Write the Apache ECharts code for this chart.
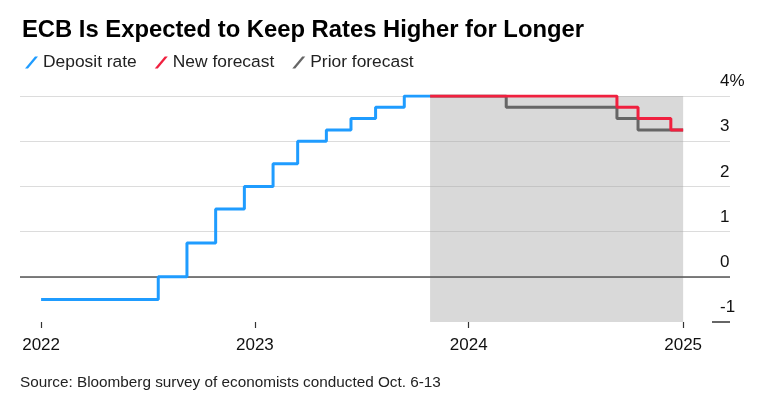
<!DOCTYPE html>
<html>
<head>
<meta charset="utf-8">
<script src="https://cdn.jsdelivr.net/npm/echarts@6/dist/echarts.min.js"></script>
<style>
html,body{margin:0;padding:0;background:#fff;}
#chart{width:764px;height:404px;}
</style>
</head>
<body>
<div id="chart"></div>
<script>
// Data
var depositRate = [
  ['2022-01-01', -0.5], ['2022-07-20', 0], ['2022-09-07', 0.75], ['2022-10-26', 1.5],
  ['2022-12-14', 2.0], ['2023-02-01', 2.5], ['2023-03-15', 3.0], ['2023-05-03', 3.25],
  ['2023-06-14', 3.5], ['2023-07-26', 3.75], ['2023-09-13', 4.0], ['2023-10-27', 4.0]
];
var newForecast = [
  ['2023-10-27', 4.0], ['2024-09-10', 3.75], ['2024-10-16', 3.5], ['2024-12-11', 3.25], ['2025-01-01', 3.25]
];
var priorForecast = [
  ['2023-10-27', 4.0], ['2024-03-05', 3.75], ['2024-09-10', 3.5], ['2024-10-16', 3.25], ['2025-01-01', 3.25]
];
var forecastPeriod = ['2023-10-27', '2025-01-01'];
var yTicks = [-1, 0, 1, 2, 3, 4];

var FONT = 'Liberation Sans, Arial, sans-serif';
var chart = echarts.init(document.getElementById('chart'));
var slash = 'path://M0,12 L3,12 L13,0 L10,0 Z';
var sourceText = {
  type: 'text', left: 20, top: 375,
  style: {text: 'Source: Bloomberg survey of economists conducted Oct. 6-13', fontSize: 15.3, fill: '#222', fontFamily: FONT}
};

chart.setOption({
  animation: false,
  backgroundColor: '#fff',
  textStyle: {fontFamily: FONT},
  title: {
    text: 'ECB Is Expected to Keep Rates Higher for Longer',
    left: 17, top: 13,
    textStyle: {fontSize: 23.8, fontWeight: 'bold', color: '#000', fontFamily: FONT}
  },
  legend: {
    left: 20, top: 49,
    itemWidth: 13, itemHeight: 12, itemGap: 18,
    textStyle: {fontSize: 17.4, color: '#222', fontFamily: FONT},
    data: [
      {name: 'Deposit rate', icon: slash, itemStyle: {color: '#1f9cff'}},
      {name: 'New forecast', icon: slash, itemStyle: {color: '#f0203f'}},
      {name: 'Prior forecast', icon: slash, itemStyle: {color: '#666666'}}
    ]
  },
  grid: {left: 20, right: 34, top: 96, bottom: 82},
  xAxis: {
    type: 'time',
    min: '2021-11-26',
    max: '2025-03-22',
    minInterval: 365 * 24 * 3600 * 1000,
    maxInterval: 366 * 24 * 3600 * 1000,
    axisLine: {show: false, onZero: false},
    axisTick: {show: true, length: 6, lineStyle: {color: '#333', width: 1.2}},
    axisLabel: {
      fontSize: 17, color: '#111', margin: 15, fontFamily: FONT,
      formatter: function (v) { return new Date(v).getFullYear() + ''; }
    },
    splitLine: {show: false}
  },
  yAxis: {
    type: 'value',
    position: 'right',
    min: yTicks[0], max: yTicks[yTicks.length - 1], interval: 1,
    axisLine: {show: false},
    axisTick: {show: false},
    axisLabel: {
      inside: true, align: 'left', verticalAlign: 'bottom', margin: 10,
      padding: [0, 0, 6, 0],
      fontSize: 17, color: '#111', fontFamily: FONT,
      formatter: function (v) { return v === yTicks[yTicks.length - 1] ? v + '%' : v + ''; }
    },
    splitLine: {
      show: true,
      lineStyle: {color: ['rgba(0,0,0,0)', '#dcdcdc', '#dcdcdc', '#dcdcdc', '#dcdcdc', '#dcdcdc'], width: 1.2}
    }
  },
  series: [
    {
      name: 'Prior forecast', type: 'line', step: 'end', data: priorForecast,
      showSymbol: false, symbol: 'none',
      lineStyle: {color: '#666666', width: 3},
      itemStyle: {color: '#666666'},
      z: 3,
      markArea: {
        silent: true,
        itemStyle: {color: 'rgba(160,160,160,0.4)'},
        data: [[{xAxis: forecastPeriod[0], yAxis: yTicks[yTicks.length - 1]}, {xAxis: forecastPeriod[1], yAxis: yTicks[0]}]]
      }
    },
    {
      name: 'New forecast', type: 'line', step: 'end', data: newForecast,
      showSymbol: false, symbol: 'none',
      lineStyle: {color: '#f0203f', width: 3},
      itemStyle: {color: '#f0203f'},
      z: 4
    },
    {
      name: 'Deposit rate', type: 'line', step: 'end', data: depositRate,
      showSymbol: false, symbol: 'none',
      lineStyle: {color: '#1f9cff', width: 3},
      itemStyle: {color: '#1f9cff'},
      z: 5,
      markLine: {
        silent: true, symbol: 'none', label: {show: false},
        lineStyle: {color: '#555', width: 1.5, type: 'solid'},
        data: [{yAxis: 0}]
      }
    }
  ],
  graphic: [sourceText]
});

// short rule under the lowest y label, positioned through the axis scale
var yMinPx = chart.convertToPixel({yAxisIndex: 0}, yTicks[0]);
var xEnd = 764 - 34;
chart.setOption({
  graphic: [sourceText, {
    type: 'line', silent: true,
    shape: {x1: xEnd - 18, y1: yMinPx, x2: xEnd, y2: yMinPx},
    style: {stroke: '#333', lineWidth: 1.5}
  }]
});
</script>
</body>
</html>
